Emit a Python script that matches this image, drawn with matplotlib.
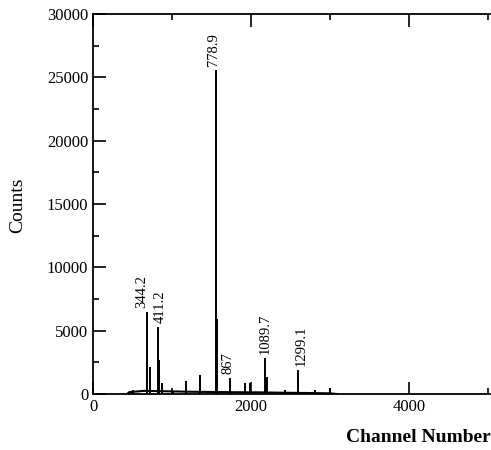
import matplotlib
matplotlib.use("Agg")
import matplotlib.pyplot as plt
from matplotlib.ticker import MultipleLocator

# Peak positions (channel) and heights (counts)
peak_channels = [506, 683, 720, 822, 840, 870, 1015, 1170, 1353, 1555, 1562,
                 1732, 1922, 1985, 2175, 2195, 2427, 2592, 2807, 2996]
peak_counts = [300, 6470, 2130, 5290, 2680, 870, 200, 1030, 1500, 25600, 5920,
               1260, 870, 870, 2840, 1340, 320, 1890, 300, 450]

# Low continuum under the peaks
bg_channels = [430, 460, 650, 900, 1200, 1500, 1800, 2100, 2400, 2700, 3000, 3080]
bg_counts = [0, 150, 250, 220, 180, 160, 140, 130, 100, 80, 50, 0]

# Labelled peaks (energies in keV)
label_channels = [683, 822, 1555, 1732, 2175, 2592]
label_counts = [6470, 5290, 25600, 1260, 2840, 1890]
label_texts = ["344.2", "411.2", "778.9", "867", "1089.7", "1299.1"]

x_ticks = [0, 2000, 4000]
y_ticks = [0, 5000, 10000, 15000, 20000, 25000, 30000]

plt.rcParams['font.family'] = ['Liberation Serif', 'DejaVu Serif']

fig = plt.figure(figsize=(4.91, 4.5), dpi=100)
ax = fig.add_axes([93 / 491, 1 - 394 / 450, 398 / 491, 380 / 450])

ax.plot(bg_channels, bg_counts, color='black', lw=1.5)
ax.vlines(peak_channels, 0, peak_counts, color='black', lw=1.4)

label_dx = [-3.5, 1.5, -2, -1.5, 0, 2]
for c, h, t, dx in zip(label_channels, label_counts, label_texts, label_dx):
    ax.annotate(t, xy=(c, h), xytext=(dx, 3), textcoords='offset points',
                rotation=90, ha='center', va='bottom', fontsize=10.5)

ax.set_xlim(0, 5032)
ax.set_ylim(0, 30000)
ax.set_xticks(x_ticks)
ax.set_yticks(y_ticks)
ax.xaxis.set_minor_locator(MultipleLocator(1000))
ax.yaxis.set_minor_locator(MultipleLocator(2500))
ax.tick_params(which='both', direction='in', top=True, right=False,
               labelsize=12, width=1.2)
ax.tick_params(which='major', length=9)
ax.tick_params(which='minor', length=4)
ax.spines['right'].set_visible(False)
for s in ['left', 'top', 'bottom']:
    ax.spines[s].set_linewidth(1.3)

fig.text(18 / 491, 1 - 205 / 450, "Counts", rotation=90, ha='center',
         va='center', fontsize=14)
fig.text(491 / 491, 1 - 438 / 450, "Channel Number", ha='right', va='center',
         fontsize=14, fontweight='bold')

fig.savefig("out.png", dpi=100)
